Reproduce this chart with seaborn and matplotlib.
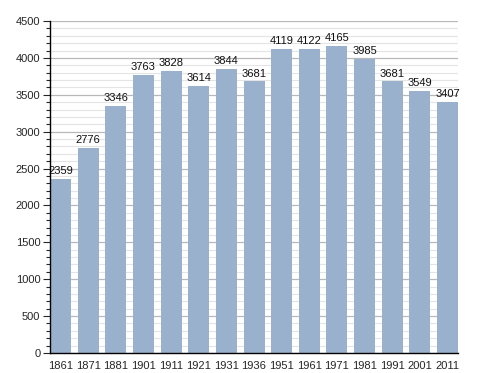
import matplotlib
matplotlib.use("Agg")
import matplotlib.pyplot as plt
import seaborn as sns
import pandas as pd
from matplotlib.ticker import MultipleLocator

# === 1. Data ===
years = ["1861", "1871", "1881", "1901", "1911", "1921", "1931", "1936",
         "1951", "1961", "1971", "1981", "1991", "2001", "2011"]
population = [2359, 2776, 3346, 3763, 3828, 3614, 3844, 3681,
              4119, 4122, 4165, 3985, 3681, 3549, 3407]

df = pd.DataFrame({"year": years, "pop": population})

# === 2. Plot ===
sns.set_style("white")
plt.rcParams["font.family"] = ["Liberation Sans", "DejaVu Sans"]

fig = plt.figure(figsize=(4.88, 3.73), dpi=100)
ax = fig.add_axes([0.1025, 0.0536, 0.836, 0.89])

sns.barplot(data=df, x="year", y="pop", color="#9ab1cd", width=0.76,
            saturation=1, ax=ax, linewidth=0)
for p in ax.patches:
    p.set_zorder(3)

# value labels
for i, v in enumerate(population):
    ax.text(i, v + 40, str(v), ha="center", va="bottom", fontsize=8,
            color="#111111", zorder=4)

ax.set_ylim(0, 4500)
ax.set_xlim(-0.38, 14.38)
ax.yaxis.set_major_locator(MultipleLocator(500))
ax.yaxis.set_minor_locator(MultipleLocator(100))
ax.grid(axis="y", which="major", color="#b8b8b8", linewidth=0.9)
ax.grid(axis="y", which="minor", color="#e4e4e4", linewidth=0.8)
ax.set_axisbelow(True)

for s in ["top", "right"]:
    ax.spines[s].set_visible(False)
for s in ["left", "bottom"]:
    ax.spines[s].set_color("black")
    ax.spines[s].set_linewidth(1)
    ax.spines[s].set_zorder(5)

ax.tick_params(axis="y", which="major", left=True, length=5, width=0.8, labelsize=8, pad=2)
ax.tick_params(axis="y", which="minor", left=True, length=3, width=0.8)
ax.tick_params(axis="x", bottom=False, labelsize=8, pad=2)
ax.set_xlabel("")
ax.set_ylabel("")

plt.savefig("out.png", dpi=100)
plt.close()
